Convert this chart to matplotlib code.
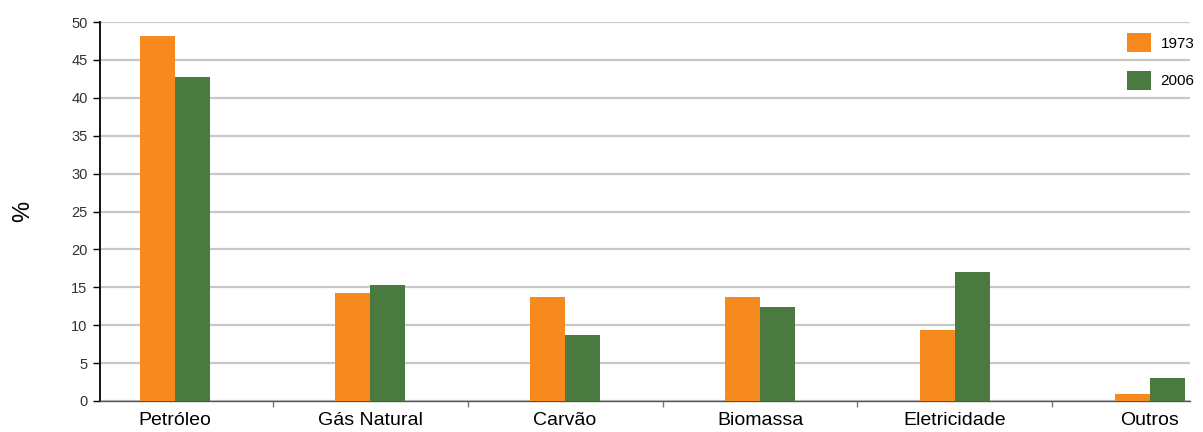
import numpy as np
import matplotlib.pyplot as plt

categorias = ['Petróleo', 'Gás Natural', 'Carvão', 'Biomassa', 'Eletricidade', 'Outros']
v1973 = [48.2, 14.3, 13.7, 13.7, 9.4, 0.9]
v2006 = [42.8, 15.3, 8.7, 12.4, 17.0, 3.1]
anos = ['1973', '2006']

laranja = '#f68a1e'
verde = '#4b7a40'

plt.rcParams['font.family'] = ['Liberation Sans', 'DejaVu Sans']

fig = plt.figure(figsize=(12.03, 4.32), dpi=100)
ax = fig.add_axes([100/1203, 1-401/432, 1090/1203, 379/432])

x = np.arange(len(categorias))
w = 0.18
ax.bar(x - w/2, v1973, w, color=laranja, label=anos[0], zorder=3)
ax.bar(x + w/2, v2006, w, color=verde, label=anos[1], zorder=3)

ax.set_ylim(0, 50)
ax.set_xlim(-0.386, 5.206)
ax.set_yticks(range(0, 51, 5))
ax.yaxis.grid(True, color='#c8c8c8', linewidth=1.6, zorder=0)
ax.set_axisbelow(True)

for s in ['top', 'right']:
    ax.spines[s].set_visible(False)
ax.spines['left'].set_color('black')
ax.spines['left'].set_linewidth(1.3)
ax.spines['bottom'].set_color('#555555')
ax.spines['bottom'].set_linewidth(1.0)

ax.tick_params(axis='y', length=5, width=1, colors='black', labelcolor='#333333',
               labelsize=10.5, pad=4)
ax.set_xticks(x)
ax.set_xticklabels(categorias, fontsize=14)
ax.tick_params(axis='x', length=0, pad=8)
ax.set_xticks(x[:-1] + 0.5, minor=True)
ax.tick_params(axis='x', which='minor', length=4, width=1, color='#777777')

ax.set_ylabel('%', fontsize=17)
ax.yaxis.set_label_coords(-0.06, 0.5)

ax.legend(loc='upper right', bbox_to_anchor=(1.014, 1.0), frameon=False,
          fontsize=11, handlelength=1.6, handleheight=1.6, labelspacing=1.2,
          handletextpad=0.6, borderaxespad=0.3)

fig.savefig('out.png', dpi=100)
